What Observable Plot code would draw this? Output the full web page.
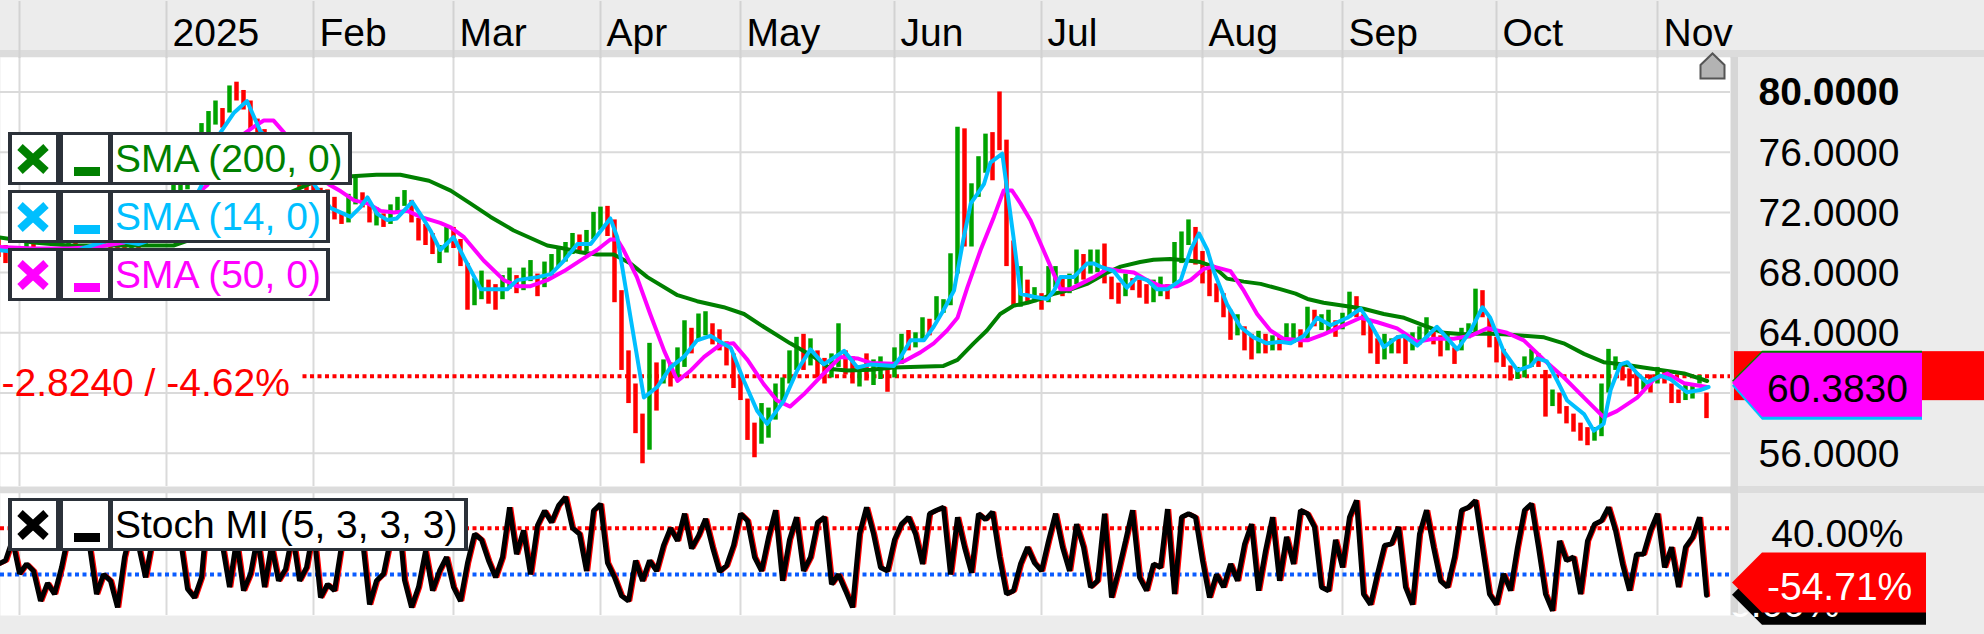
<!DOCTYPE html>
<html>
<head>
<meta charset="utf-8">
<script src="https://cdn.jsdelivr.net/npm/d3@7"></script>
<script src="https://cdn.jsdelivr.net/npm/@observablehq/plot@0.6"></script>
<style>
  html, body { margin: 0; padding: 0; background: #ececec; }
  #chart { position: relative; width: 1984px; height: 634px; overflow: hidden; background: #ececec;
    font-family: "Liberation Sans", Arial, Helvetica, sans-serif; }
  .abs { position: absolute; }
  .band { position: absolute; background: #dcdcdc; }
  .legend { position: absolute; left: 8px; height: 53px; background: #2b3139; box-sizing: border-box;
    padding: 3px 4px; display: flex; }
  .cell { background: #fff; height: 47px; position: relative; overflow: hidden; flex: none; }
  .cell svg { position: absolute; left: 0; top: 0; }
  .txt { font-size: 39px; line-height: 47px; white-space: nowrap; padding-left: 2px; box-sizing: border-box; }
</style>
</head>
<body>
<div id="chart">
  <div class="band" style="left:0;top:50px;width:1984px;height:7px"></div>
  <div class="band" style="left:0;top:486px;width:1984px;height:7px"></div>
  <div class="band" style="left:1730px;top:57px;width:8px;height:558px;background:#d6d6d6"></div>
  <div id="main" class="abs" style="left:0;top:0"></div>
  <div id="lower" class="abs" style="left:0;top:486px"></div>
</div>
<script>
// ---------- DATA ----------
// bar index 0 = 26 Nov 2024 ... 244 = 12 Nov 2025 (trading days)
const monthTicks  = [3, 24, 45, 65, 86, 106, 128, 149, 172, 192, 214, 237];
const monthLabels = ["", "2025", "Feb", "Mar", "Apr", "May", "Jun", "Jul", "Aug", "Sep", "Oct", "Nov"];
const priceTicks = [56, 60, 64, 68, 72, 76, 80];
const priceLabelTicks = [56, 64, 68, 72, 76, 80];   // 60 is hidden under the value tags
const stochTicks = [40, -40];
const stochLabelTicks = [40];                        // -40 is hidden under the value tags

const barHigh = [
  70.3, 69.8, 69.6, 69.7, 70.6, 70.2, 69.2, 68.6, 69.0, 69.3,
  70.6, 70.8, 71.6, 71.5, 70.9, 71.0, 70.6, 70.1, 70.0, 70.5,
  70.4, 71.0, 71.4, 72.2, 73.0, 74.0, 74.5, 75.2, 76.8, 77.9,
  78.7, 79.4, 78.9, 80.4, 80.65, 80.1, 79.4, 78.2, 77.5, 77.0,
  76.8, 75.9, 75.5, 75.0, 74.6, 74.0, 73.6, 73.5, 73.0, 71.9,
  73.2, 74.4, 73.3, 72.6, 72.3, 71.9, 72.5, 73.0, 73.45, 72.8,
  71.6, 71.2, 70.6, 69.8, 71.0, 71.0, 70.2, 68.6, 67.6, 68.1,
  67.5, 67.2, 67.8, 68.3, 67.8, 68.3, 68.8, 67.9, 68.7, 69.2,
  69.6, 70.0, 70.6, 70.5, 70.8, 72.0, 72.35, 72.4, 71.5, 66.8,
  62.8, 60.6, 58.6, 63.3, 62.0, 62.2, 62.0, 63.0, 64.8, 64.3,
  65.25, 65.4, 64.6, 64.2, 63.4, 62.6, 61.2, 59.6, 58.0, 59.3,
  59.0, 60.6, 61.0, 62.8, 63.7, 63.9, 63.6, 62.8, 62.3, 62.6,
  64.6, 62.8, 62.4, 61.8, 62.6, 62.2, 62.4, 61.6, 63.0, 63.9,
  64.15, 64.0, 65.0, 64.9, 66.4, 66.2, 69.25, 77.66, 77.55, 73.9,
  75.7, 77.2, 77.3, 80.0, 76.8, 70.1, 68.4, 67.5, 67.0, 66.6,
  68.4, 68.4, 67.7, 67.9, 69.5, 69.2, 69.5, 69.5, 69.9, 67.7,
  67.3, 67.9, 67.6, 67.5, 67.2, 67.5, 67.7, 67.2, 70.0, 70.7,
  71.5, 71.0, 69.4, 68.6, 67.25, 66.6, 65.5, 65.2, 64.4, 63.9,
  64.1, 63.9, 63.8, 63.7, 64.6, 64.6, 64.2, 65.7, 65.5, 65.2,
  65.5, 64.8, 65.3, 66.7, 66.4, 65.2, 64.6, 63.6, 63.9, 63.6,
  63.8, 63.7, 64.0, 64.4, 65.0, 64.15, 63.8, 64.0, 63.0, 64.3,
  64.6, 66.9, 66.8, 65.0, 63.7, 62.9, 61.8, 61.7, 62.4, 62.9,
  62.6, 61.5, 60.2, 60.0, 59.1, 58.6, 58.0, 57.7, 57.7, 60.6,
  62.9, 62.4, 61.9, 61.6, 61.3, 61.0, 61.2, 61.7, 61.4, 60.6,
  60.2, 60.6, 60.5, 61.16, 60.0
];
const barLow = [
  69.0, 68.6, 68.5, 68.4, 69.2, 68.6, 68.0, 67.3, 67.6, 68.1,
  68.8, 69.5, 70.0, 70.3, 69.8, 69.9, 69.4, 69.0, 68.9, 69.4,
  69.3, 69.8, 70.4, 71.0, 71.5, 72.5, 73.0, 73.5, 74.5, 76.0,
  77.3, 77.8, 77.6, 78.6, 79.4, 78.8, 77.5, 76.8, 76.0, 75.8,
  75.0, 74.6, 74.2, 73.6, 73.2, 72.6, 72.0, 71.6, 71.5, 71.2,
  71.3, 72.5, 72.3, 71.3, 71.1, 71.0, 71.2, 71.9, 72.4, 71.3,
  70.1, 69.8, 69.2, 68.6, 69.3, 69.6, 68.4, 65.5, 65.8, 66.2,
  65.9, 65.5, 66.2, 66.9, 66.6, 66.8, 67.4, 66.4, 67.0, 67.8,
  68.4, 68.7, 69.2, 69.3, 69.4, 70.2, 70.8, 70.4, 66.0, 61.5,
  59.3, 57.3, 55.3, 56.2, 58.8, 60.6, 60.4, 61.0, 61.7, 62.6,
  63.5, 63.8, 63.2, 62.8, 61.8, 60.3, 59.5, 56.85, 55.7, 56.6,
  57.0, 58.2, 59.3, 60.6, 61.5, 61.5, 61.8, 61.0, 60.6, 61.0,
  61.7, 61.2, 60.6, 60.4, 60.8, 60.5, 60.9, 60.05, 61.0, 61.9,
  62.8, 63.0, 63.5, 63.8, 64.8, 65.3, 65.8, 67.9, 69.7, 69.7,
  73.0, 74.6, 74.1, 76.1, 68.4, 65.7, 65.7, 65.9, 66.0, 65.5,
  66.0, 67.0, 66.4, 66.6, 67.2, 67.5, 67.9, 68.0, 67.25, 66.2,
  65.9, 66.4, 66.8, 66.3, 65.9, 66.0, 66.4, 66.2, 67.25, 68.6,
  69.8, 68.5, 67.25, 66.4, 66.0, 65.0, 63.5, 63.8, 62.8, 62.2,
  62.6, 62.6, 62.8, 62.8, 63.3, 63.3, 63.0, 63.4, 64.4, 64.15,
  64.0, 63.7, 64.2, 65.0, 65.0, 63.8, 62.6, 61.9, 62.2, 62.6,
  62.6, 61.9, 62.8, 63.2, 63.6, 63.2, 62.4, 62.8, 61.9, 62.8,
  63.6, 64.0, 65.0, 63.0, 62.0, 61.7, 60.8, 60.9, 61.0, 61.7,
  61.7, 58.4, 59.1, 58.6, 57.95, 57.4, 56.8, 56.5, 56.8, 57.1,
  60.0, 61.5, 60.8, 60.4, 59.9, 60.2, 60.0, 60.6, 60.6, 59.3,
  59.3, 59.5, 59.6, 60.6, 58.3
];
// u = up (green) bar, d = down (red) bar
const barDir =
  "dduuuddduu" + "ududdudddu" + "duuuuuuuuu" + "uududddddu" + "dduddddddd" +
  "uudduduuud" + "ddduuddduu" + "dduuduuduu" + "uuuduuuddd" + "dddududuud" +
  "uudddddddu" + "uuuuududdu" + "udduduuduu" + "duuduuuudu" + "uuddddudud" +
  "uuduuduudd" + "duddduuduu" + "uddddddudd" + "ududuududu" + "uduudddduu" +
  "dduuuddudu" + "uuddddduuu" + "dduddddduu" + "uudddududd" + "duuud";

// moving averages: [bar index, value]
const sma200 = [
  [0,70.35],[5,70.0],[10,69.8],[15,69.8],[20,69.8],[25,69.8],[30,70.6],[35,71.8],[40,73.0],[45,74.0],
  [50.5,74.4],[54,74.5],[57.4,74.5],[61.5,74.1],[64.6,73.45],[67.4,72.6],[70.3,71.7],[73.6,70.8],[78.4,69.8],
  [80.8,69.6],[83.1,69.35],[85.5,69.2],[87.9,69.2],[90.3,68.6],[92.7,67.7],[97,66.5],[99.8,66.1],[103.6,65.7],
  [106.5,65.25],[109.3,64.4],[113.1,63.3],[116.5,62.4],[118.9,61.6],[121.2,61.5],[124.6,61.55],[127.9,61.7],
  [135,61.8],[137,62.2],[139.3,63.3],[141.2,64.15],[143.1,65.25],[145,65.8],[147,66.0],[148.9,66.25],
  [150.8,66.6],[152.7,66.8],[155.5,67.25],[158.4,68.0],[160.3,68.4],[163.1,68.7],[165,68.85],[167.4,68.9],
  [169.8,68.8],[171.7,68.7],[173.6,68.4],[175.5,67.6],[177.9,67.4],[180.3,67.25],[183.1,66.9],[185.3,66.6],
  [187,66.25],[189.3,66.0],[192.2,65.8],[195,65.6],[197.9,65.25],[200.8,65.0],[203.6,64.5],[206.5,64.0],
  [209.3,63.9],[212.2,63.95],[215,63.9],[217.9,63.8],[220.8,63.7],[223.6,63.3],[226.5,62.6],[229.3,62.05],
  [232.2,61.9],[235,61.7],[237.9,61.5],[240.8,61.3],[244.1,60.8]
];
const sma50 = [
  [0,69.7],[5,69.6],[10,69.6],[14,69.7],[18,70.0],[22,70.8],[26,72.3],[29.8,73.8],[33,76.0],[35,77.2],
  [36.5,77.7],[37.9,78.1],[39.3,78.1],[40.8,77.3],[43,75.8],[45,74.6],[47.4,73.8],[48.9,73.4],[50.8,72.8],
  [52.7,72.6],[54.6,72.1],[56.5,72.0],[58.4,72.1],[60.3,71.7],[61.7,71.5],[63.1,71.3],[64.6,71.0],[66.5,70.35],
  [69.3,68.8],[72.2,67.5],[74.1,67.1],[76,67.1],[78.4,67.5],[80.8,68.1],[83.1,68.8],[85.5,69.5],[87.4,70.2],
  [88.4,70.2],[89.3,69.5],[91.2,67.7],[93.1,65.25],[95.1,62.8],[97,60.8],[98.9,61.5],[100.8,62.4],[103.1,63.2],
  [105,63.3],[107,62.2],[109.3,60.6],[111.2,59.5],[113.1,59.1],[115,59.9],[117.9,61.3],[120.3,62.4],[122.7,62.3],
  [124.6,62.0],[127.9,61.95],[129.3,62.1],[131.7,62.7],[133.6,63.3],[135.5,64.15],[137,65.0],[138.4,67.0],
  [140.3,69.5],[142.2,71.7],[143.6,73.45],[144.8,73.45],[146,72.6],[147.4,71.5],[148.9,69.9],[150.3,68.4],
  [151.7,66.9],[153.1,66.9],[154.6,67.25],[156.5,67.7],[158.4,68.25],[160.3,68.1],[162.2,68.0],[164.1,67.5],
  [166,67.1],[168.4,67.1],[170.3,67.5],[172.2,68.25],[173.6,68.4],[176,68.1],[177.9,66.8],[179.8,65.25],
  [181.7,64.15],[183.6,63.6],[186,63.5],[187,63.5],[189.3,63.9],[192.2,64.5],[194.6,65.0],[197,64.7],
  [199.8,64.3],[202.7,63.4],[205,63.6],[207.9,63.6],[210.3,63.8],[212.7,64.3],[215.5,64.0],[217.9,63.5],
  [220.8,62.2],[223.6,61.05],[226.5,59.7],[229.3,58.4],[231.2,58.8],[234.1,59.7],[236.5,60.9],[238.4,61.3],
  [240.8,60.65],[244.1,60.4]
];
const sma14 = [
  [0,69.5],[4,69.3],[8,68.8],[12,69.6],[16,70.2],[20,69.9],[24,70.5],[27,72.0],[29,73.8],[31.7,77.3],
  [33.6,78.6],[35.5,79.4],[37.4,77.4],[40,76.3],[43,75.2],[45.5,73.6],[47.4,72.3],[50.3,71.7],[51.7,72.35],
  [52.7,73.0],[54.1,71.9],[55.5,71.5],[56.9,71.6],[59.1,72.7],[60.8,71.5],[61.7,70.8],[63.1,69.5],[65,70.35],
  [66.5,69.0],[68.9,66.9],[71.2,66.9],[72.7,66.9],[74.1,67.5],[77,67.7],[78.9,67.9],[80.8,68.8],[82.7,69.9],
  [84.6,69.9],[87.4,71.6],[88.4,70.35],[90.3,65.0],[92.2,59.7],[94.1,60.4],[96,61.7],[97.9,62.4],[99.8,63.5],
  [101.7,63.8],[103.1,63.4],[104.6,63.0],[106.5,60.8],[108.4,58.8],[109.8,57.95],[112.2,59.5],[114.1,61.5],
  [116,62.9],[117.9,61.9],[120.8,62.8],[122.7,61.7],[124.6,61.9],[127.9,61.8],[128.9,62.4],[130.3,63.5],
  [132.2,63.5],[133.6,64.4],[135,65.5],[136.5,66.8],[137.9,70.35],[138.9,72.6],[139.8,73.2],[140.8,73.9],
  [141.7,75.3],[143.4,75.9],[144.1,73.45],[145,70.35],[146,66.6],[147.9,66.4],[149.8,66.25],[150.8,66.8],
  [151.7,67.7],[153.6,67.7],[155.5,68.6],[156.5,68.6],[157.4,68.4],[159.3,68.1],[161.2,67.0],[162.7,67.7],
  [164.1,67.5],[165.5,66.9],[167,66.9],[168.9,67.5],[170.3,69.5],[171.5,70.6],[172.7,69.5],[173.6,68.1],
  [175.5,65.9],[177.4,64.4],[179.3,63.7],[181.2,63.3],[183.1,63.4],[184.6,63.3],[186.5,63.8],[188.4,65.0],
  [190.3,64.5],[192.7,65.0],[194.6,65.6],[196,64.6],[197.9,63.05],[199.8,63.7],[200.8,63.8],[202.7,63.15],
  [205.5,64.4],[208.4,62.9],[210.3,64.15],[212,65.7],[213.1,65.0],[215,62.8],[217,61.5],[218.9,61.8],
  [219.8,62.3],[221.2,62.1],[222.7,60.8],[224.1,59.5],[226.5,58.6],[227.9,57.5],[229.3,57.95],[230.3,60.2],
  [231.7,61.9],[232.7,62.05],[234.1,61.3],[235.5,60.7],[237.4,61.15],[238.9,60.9],[241.2,60.05],[243.1,60.2],
  [244.3,60.4]
];

// Stochastic Momentum Index (5,3,3,3), percent, one value per bar
const smi = [
  -22, -16, 20, -39, -22, -34, -86, -55, -74, -28,
  30, 60, 45, 10, -74, -40, -51, -97, -10, 40,
  10, -45, 20, 65, 80, 55, 20, -65, -80, -45,
  90, 60, 10, -62, 20, -68, -39, 25, -62, 10,
  -51, -31, 30, -51, -28, 40, -80, -57, -68, 10,
  30, 60, 20, -92, -51, -39, 20, 85, -50, -97,
  -62, 0, -68, -34, -10, -62, -86, -20, 30, 20,
  -16, -45, -10, 76, -5, 36, -40, 45, 70, 50,
  79, 94, 40, 30, -34, 70, 82, -20, -45, -77,
  -86, -16, -51, -16, -34, 10, 40, 18, 65, 5,
  27, 56, 7, -35, -25, 10, 65, 53, -10, -34,
  24, 71, -51, 20, 59, -34, -10, 50, 59, -57,
  -40, -68, -97, 30, 76, 30, -28, -34, 20, 47,
  59, 30, -22, 65, 71, 76, -40, 59, 7, -37,
  65, 55, 68, -10, -74, -68, -22, 7, -20, -34,
  18, 65, 7, -34, 47, 7, -62, -51, 65, -80,
  -34, 18, 71, -45, -68, -22, -28, 73, -74, 59,
  65, 59, -16, -80, -40, -62, -22, -51, 12, 47,
  -68, 1, 59, -51, 25, -22, 71, 65, 42, -62,
  -68, 20, -28, 59, 88, -74, -92, -39, 10, 13,
  42, -62, -92, 30, 71, 7, -51, -62, -10, 71,
  76, 88, 7, -74, -92, -39, -68, 7, 71, 82,
  7, -74, -103, 18, -16, -10, -74, 18, 47, 53,
  76, 36, -22, -68, -5, -5, 36, 65, -28, 7,
  -62, 7, 24, 59, -76
];

const prevClose = [61.12];
const changeLabel = "-2.8240 / -4.62%";
const sma50Last = 60.383;
const signalLast = -54.71;

// ---------- COLOURS ----------
const UP = "#00a300", DOWN = "#ff0000";
const C200 = "#008000", C14 = "#00bfff", C50 = "#ff00ff";

// ---------- HELPERS ----------
const xDomain = [0.2857, 247.43];
const FONT = "Liberation Sans, Arial, Helvetica, sans-serif";
const bars = barHigh.map((h, i) => ({i, high: h, low: barLow[i], up: barDir[i] === "u"}));
const months = monthTicks.map((i, k) => ({i, label: monthLabels[k]}));

function tagMark(value, o) {
  return (index, scales, values, dims) => {
    const Y = scales.y(value) + (o.shift || 0);
    const x0 = dims.width - dims.marginRight + 2;
    const g = d3.create("svg:g");
    for (const layer of o.layers) {
      const y = Y + layer.dy;
      g.append("path")
        .attr("d", `M${x0},${y}L${x0 + 30},${y - o.up}H${x0 + o.w}V${y + o.down}H${x0 + 30}Z`)
        .attr("fill", layer.fill);
    }
    if (o.label) {
      g.append("text").attr("x", x0 + 35).attr("y", Y + o.base)
        .attr("fill", o.textFill).attr("font-size", 39).attr("font-family", FONT)
        .attr("text-anchor", "start").text(o.label);
    }
    return g.node();
  };
}
function bandMark(value, half) {
  return (index, scales, values, dims) => {
    const y = scales.y(value);
    const x0 = dims.width - dims.marginRight + 4;
    return d3.create("svg:rect").attr("x", x0).attr("y", y - half)
      .attr("width", dims.width - x0).attr("height", 2 * half).attr("fill", "#ff0000").node();
  };
}
// bottom edge of the hidden SMI value text peeking below the signal tag
function peekText(value, label) {
  return (index, scales, values, dims) => {
    const Y = scales.y(value);
    const x0 = dims.width - dims.marginRight + 2;
    const g = d3.create("svg:g");
    const id = "clipPeek";
    g.append("clipPath").attr("id", id).append("rect")
      .attr("x", x0).attr("y", scales.y(signalLast) + 30).attr("width", 260).attr("height", 40);
    g.append("text").attr("x", x0 + 35).attr("y", Y + 22).attr("clip-path", `url(#${id})`)
      .attr("fill", "white").attr("font-size", 39).attr("font-family", FONT).text(label);
    return g.node();
  };
}

// ---------- MAIN PRICE PANEL ----------
const main = Plot.plot({
  width: 1984, height: 486,
  marginTop: 57, marginBottom: 0, marginLeft: 0, marginRight: 254,
  x: {type: "linear", domain: xDomain, axis: null},
  y: {domain: [53.79, 82.29], axis: null},
  style: {background: "transparent", fontFamily: FONT, overflow: "visible"},
  marks: [
    Plot.frame({fill: "white", stroke: "none"}),
    Plot.ruleY(priceTicks, {stroke: "#dadada", strokeWidth: 2}),
    Plot.ruleX(monthTicks, {stroke: "#dadada", strokeWidth: 2}),
    Plot.axisX(monthTicks, {anchor: "top", tickSize: 57, fill: "none", stroke: "#d2d2d2", strokeWidth: 2, label: null}),
    Plot.text(months, {x: "i", text: "label", frameAnchor: "top", dy: -12, dx: 6, textAnchor: "start",
      lineAnchor: "bottom", fontSize: 39, fill: "black"}),
    Plot.ruleY(prevClose, {x1: 43.5, x2: xDomain[1], stroke: "#ff0000", strokeWidth: 4, strokeDasharray: "4,3.5"}),
    Plot.text(prevClose, {y: d => d, text: () => changeLabel, frameAnchor: "left", dx: 1, dy: 20,
      textAnchor: "start", lineAnchor: "bottom", fontSize: 39, fill: "#ff0000"}),
    Plot.ruleX(bars.filter(d => !d.up), {x: "i", y1: "low", y2: "high", stroke: DOWN, strokeWidth: 4.5, clip: true}),
    Plot.ruleX(bars.filter(d => d.up), {x: "i", y1: "low", y2: "high", stroke: UP, strokeWidth: 4.5, clip: true}),
    Plot.line(sma200, {x: d => d[0], y: d => d[1], stroke: C200, strokeWidth: 4, clip: true}),
    Plot.line(sma50, {x: d => d[0], y: d => d[1], stroke: C50, strokeWidth: 4, clip: true}),
    Plot.line(sma14, {x: d => d[0], y: d => d[1], stroke: C14, strokeWidth: 4, clip: true}),
    Plot.text(priceLabelTicks.filter(d => d !== 80), {y: d => d, text: d => d.toFixed(4), frameAnchor: "right",
      dx: 169, dy: 1, textAnchor: "end", lineAnchor: "middle", fontSize: 39, fill: "black"}),
    Plot.text(priceLabelTicks.filter(d => d === 80), {y: d => d, text: d => d.toFixed(4), frameAnchor: "right",
      dx: 169, dy: 1, textAnchor: "end", lineAnchor: "middle", fontSize: 39, fontWeight: "bold", fill: "black"}),
    bandMark(prevClose[0], 24.5),
    tagMark(sma50Last, {shift: -4, up: 30, down: 34, w: 190, base: 19, textFill: "black",
      label: sma50Last.toFixed(4),
      layers: [{dy: -2, fill: C200}, {dy: 3, fill: C14}, {dy: 0, fill: C50}]})
  ]
});
document.getElementById("main").appendChild(main);

// ---------- STOCHASTIC MOMENTUM PANEL ----------
const smiLast = smi[smi.length - 1];
const lower = Plot.plot({
  width: 1984, height: 148,
  marginTop: 7, marginBottom: 19, marginLeft: 0, marginRight: 254,
  x: {type: "linear", domain: xDomain, axis: null},
  y: {domain: [-111, 100], axis: null},
  style: {background: "transparent", fontFamily: FONT, overflow: "visible"},
  marks: [
    Plot.frame({fill: "white", stroke: "none"}),
    Plot.ruleX(monthTicks, {stroke: "#dadada", strokeWidth: 2}),
    Plot.ruleY([stochTicks[0]], {stroke: "#ff0000", strokeWidth: 4, strokeDasharray: "4,3.5"}),
    Plot.ruleY([stochTicks[1]], {stroke: "#0a5cff", strokeWidth: 4, strokeDasharray: "4,3.5"}),
    Plot.line(smi, {x: (d, i) => i, y: d => d, stroke: "#ff0000", strokeWidth: 3.5, dx: 2, strokeLinejoin: "miter", clip: true}),
    Plot.line(smi, {x: (d, i) => i, y: d => d, stroke: "black", strokeWidth: 5, strokeLinejoin: "miter", clip: true}),
    Plot.text(stochLabelTicks, {y: d => d, text: d => d.toFixed(2) + "%", frameAnchor: "right",
      dx: 173, dy: 6, textAnchor: "end", lineAnchor: "middle", fontSize: 39, fill: "black"}),
    tagMark(smiLast, {up: 30, down: 30, w: 194, base: 22, textFill: "white", label: null,
      layers: [{dy: 0, fill: "black"}]}),
    tagMark(signalLast, {up: 30, down: 30, w: 194, base: 18, textFill: "white",
      label: signalLast.toFixed(2) + "%", layers: [{dy: 0, fill: "#ff0000"}]}),
    peekText(smiLast, smiLast.toFixed(2) + "%")
  ]
});
document.getElementById("lower").appendChild(lower);

// ---------- LEGEND BOXES ----------
function legendBox(top, textW, color, label) {
  const box = document.createElement("div");
  box.className = "legend";
  box.style.top = top + "px";
  box.innerHTML =
    `<div class="cell" style="width:44px;margin-right:7px"><svg width="44" height="47">` +
    `<path d="M8,12L34,36M34,12L8,36" stroke="${color}" stroke-width="8" fill="none"/></svg></div>` +
    `<div class="cell" style="width:45px;margin-right:5px"><svg width="45" height="47">` +
    `<rect x="11" y="32" width="26" height="9" fill="${color}"/></svg></div>` +
    `<div class="cell txt" style="width:${textW}px;color:${color}">${label}</div>`;
  document.getElementById("chart").appendChild(box);
}
legendBox(132, 235, C200, "SMA (200, 0)");
legendBox(190, 213, C14, "SMA (14, 0)");
legendBox(248, 213, C50, "SMA (50, 0)");
legendBox(498, 351, "#000000", "Stoch MI (5, 3, 3, 3)");

// home / scroll marker, top right of price panel
const home = document.createElementNS("http://www.w3.org/2000/svg", "svg");
home.setAttribute("width", "30"); home.setAttribute("height", "30");
home.setAttribute("class", "abs");
home.style.left = "1698px"; home.style.top = "51px";
home.innerHTML = '<path d="M2.5,27.5V14L14.5,2.5L26.5,14V27.5Z" fill="#b3b3b3" stroke="#555" stroke-width="2"/>';
document.getElementById("chart").appendChild(home);
</script>
</body>
</html>
